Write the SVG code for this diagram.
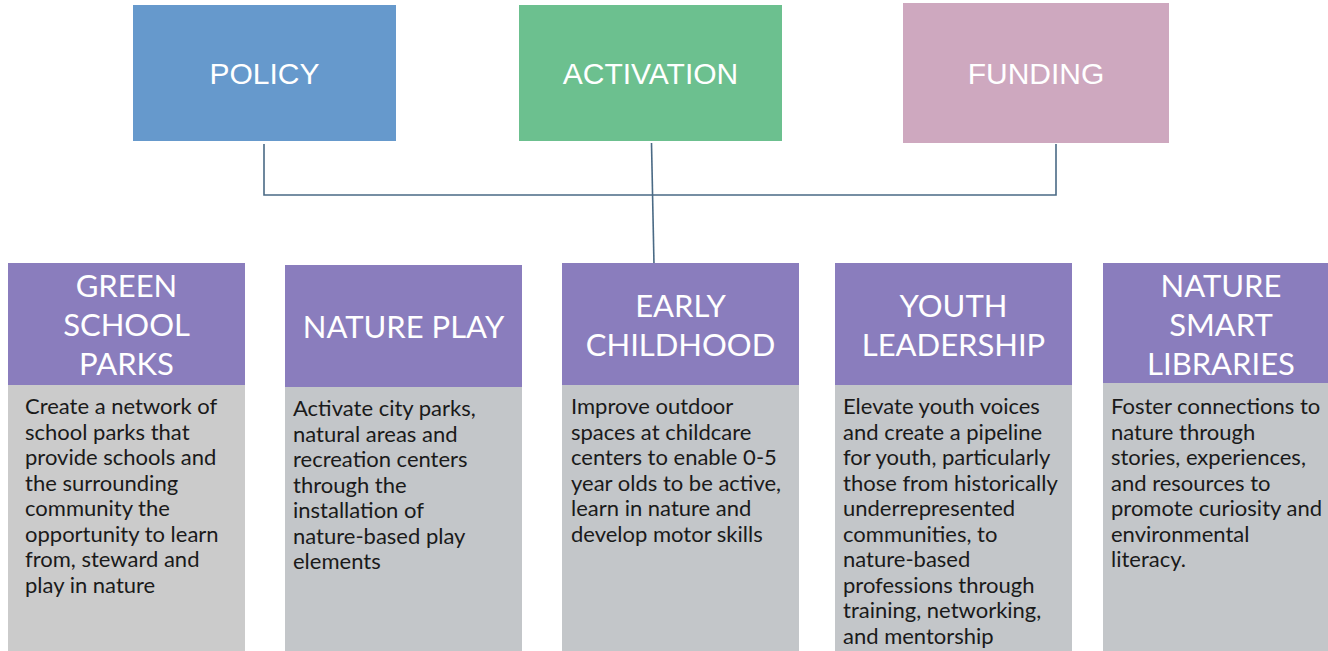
<svg xmlns="http://www.w3.org/2000/svg" width="1328" height="651" viewBox="0 0 1328 651">
<style>
.top{font-family:"Liberation Sans",Arial,sans-serif;font-size:30px;fill:#ffffff;text-anchor:middle}
.hd{fill:#8a7dbd}
.bd{fill:#c3c6c9}
.ht{font-family:Lato,"Open Sans",sans-serif;font-size:31px;fill:#ffffff;text-anchor:middle}
.bt{font-family:Lato,"Open Sans",sans-serif;font-size:22px;fill:#1a1a1a}
.conn{stroke:#4a6a85;stroke-width:1.6;fill:none}
</style>
<rect width="1328" height="651" fill="#ffffff"/>
<g id="connectors">
<polyline class="conn" points="264,144 264,195 1056,195 1056,144"/>
<line class="conn" x1="651.5" y1="143" x2="654" y2="265"/>
</g>
<g id="policy"><rect x="133" y="5" width="263" height="136" fill="#6699cc"/><text class="top" x="264.5" y="84">POLICY</text></g>
<g id="activation"><rect x="519" y="5" width="263" height="136" fill="#6cc08f"/><text class="top" x="650.5" y="84">ACTIVATION</text></g>
<g id="funding"><rect x="903" y="3" width="266" height="140" fill="#cea8bf"/><text class="top" x="1036" y="84">FUNDING</text></g>

<g id="green-school-parks">
<rect class="hd" x="8" y="263" width="237" height="122"/>
<rect x="8" y="385" width="237" height="266" fill="#cbcbcb"/>
<text class="ht" x="126.5"><tspan x="126.5" y="297">GREEN</tspan><tspan x="126.5" y="336">SCHOOL</tspan><tspan x="126.5" y="375">PARKS</tspan></text>
<text class="bt"><tspan x="25" y="414">Create a network of</tspan><tspan x="25" y="440">school parks that</tspan><tspan x="25" y="465">provide schools and</tspan><tspan x="25" y="491">the surrounding</tspan><tspan x="25" y="516">community the</tspan><tspan x="25" y="542">opportunity to learn</tspan><tspan x="25" y="567">from, steward and</tspan><tspan x="25" y="593">play in nature</tspan></text>
</g>

<g id="nature-play">
<rect class="hd" x="285" y="265" width="237" height="122"/>
<rect class="bd" x="285" y="387" width="237" height="264"/>
<text class="ht" x="403.5" y="338">NATURE PLAY</text>
<text class="bt"><tspan x="293" y="416">Activate city parks,</tspan><tspan x="293" y="442">natural areas and</tspan><tspan x="293" y="467">recreation centers</tspan><tspan x="293" y="493">through the</tspan><tspan x="293" y="518">installation of</tspan><tspan x="293" y="544">nature-based play</tspan><tspan x="293" y="569">elements</tspan></text>
</g>

<g id="early-childhood">
<rect class="hd" x="562" y="263" width="237" height="122"/>
<rect class="bd" x="562" y="385" width="237" height="266"/>
<text class="ht"><tspan x="680.5" y="317">EARLY</tspan><tspan x="680.5" y="356">CHILDHOOD</tspan></text>
<text class="bt"><tspan x="571" y="414">Improve outdoor</tspan><tspan x="571" y="440">spaces at childcare</tspan><tspan x="571" y="465">centers to enable 0-5</tspan><tspan x="571" y="491">year olds to be active,</tspan><tspan x="571" y="516">learn in nature and</tspan><tspan x="571" y="542">develop motor skills</tspan></text>
</g>

<g id="youth-leadership">
<rect class="hd" x="835" y="263" width="237" height="122"/>
<rect class="bd" x="835" y="385" width="237" height="266"/>
<text class="ht"><tspan x="953.5" y="317">YOUTH</tspan><tspan x="953.5" y="356">LEADERSHIP</tspan></text>
<text class="bt"><tspan x="843" y="414">Elevate youth voices</tspan><tspan x="843" y="440">and create a pipeline</tspan><tspan x="843" y="465">for youth, particularly</tspan><tspan x="843" y="491">those from historically</tspan><tspan x="843" y="516">underrepresented</tspan><tspan x="843" y="542">communities, to</tspan><tspan x="843" y="567">nature-based</tspan><tspan x="843" y="593">professions through</tspan><tspan x="843" y="618">training, networking,</tspan><tspan x="843" y="644">and mentorship</tspan></text>
</g>

<g id="nature-smart-libraries">
<rect class="hd" x="1103" y="263" width="237" height="120"/>
<rect class="bd" x="1103" y="383" width="237" height="268"/>
<text class="ht"><tspan x="1221" y="297">NATURE</tspan><tspan x="1221" y="336">SMART</tspan><tspan x="1221" y="375">LIBRARIES</tspan></text>
<text class="bt"><tspan x="1111" y="414">Foster connections to</tspan><tspan x="1111" y="440">nature through</tspan><tspan x="1111" y="465">stories, experiences,</tspan><tspan x="1111" y="491">and resources to</tspan><tspan x="1111" y="516">promote curiosity and</tspan><tspan x="1111" y="542">environmental</tspan><tspan x="1111" y="567">literacy.</tspan></text>
</g>
</svg>
